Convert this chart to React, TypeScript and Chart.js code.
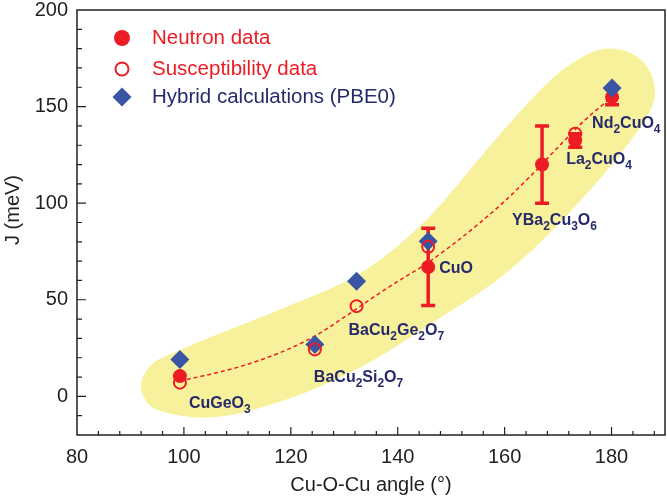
import React, { useEffect, useRef } from 'react';
import { Chart, registerables } from 'chart.js';
Chart.register(...registerables);

const FONT = "'Liberation Sans', Arial, Helvetica, sans-serif";
const RED = '#ec1c24';
const BLUE = '#3a55a4';
const NAVY = '#252a6b';
const AXIS = '#231f20';
const BAND = '#f8f19c';

// Neutron data (filled circles) with error bars
const neutronAngle = [99.25, 145.7, 167.0, 173.2, 180.1];
const neutronJ = [10.5, 67, 120, 132.5, 155];
const neutronErr = [0, 20, 20, 3.5, 4];

// Susceptibility data (open circles)
const suscAngle = [99.25, 124.5, 132.3, 145.7, 173.2];
const suscJ = [7.1, 24.3, 46.7, 77.4, 136];

// Hybrid calculations (PBE0) (diamonds)
const hybridAngle = [99.25, 124.5, 132.3, 145.7, 180.1];
const hybridJ = [19.1, 26.9, 59.6, 80.3, 159.6];

// Dashed guide line
const fitAngle = [99.25, 105, 110, 115, 120, 125, 130, 135, 140, 145, 150, 155, 160, 165, 170, 175, 180.1];
const fitJ = [8, 11.5, 15, 19.5, 25, 32, 41, 50.5, 59.5, 68, 78, 89, 101, 114.5, 129, 143, 155];

// Yellow band outline (closed)
const bandAngle = [91.8, 92.7, 94.6, 97.4, 102.4, 108.6, 114.8, 121.1, 127.3, 133.5, 139.8, 146.0, 151.6, 156.6, 162.8, 169.0, 174.0, 178.3, 182.8, 186.5, 188.4, 187.7,
  182.8, 177.8, 172.2, 166.0, 159.6, 153.5, 147.9, 139.8, 133.5, 127.3, 121.1, 114.8, 108.6, 102.4, 96.1, 93.6, 92.3];
const bandJ = [6.2, 12.9, 18.6, 21.7, 27.9, 34.6, 41.4, 48.6, 55.3, 64.1, 77.0, 92.6, 110.7, 127.7, 147.4, 165.5, 175.3, 180.5, 179.4, 172.7, 160.3, 148.4,
  129.3, 112.2, 95.2, 77.6, 62.0, 50.2, 40.8, 25.8, 15.5, 7.2, 0, -5.7, -10.3, -11.4, -8.3, -5.2, 0];

// Compound labels
const compoundNames = ['CuGeO3', 'BaCu2Si2O7', 'BaCu2Ge2O7', 'CuO', 'YBa2Cu3O6', 'La2CuO4', 'Nd2CuO4'];
const compoundAngle = [99.25, 124.5, 132.3, 145.7, 167.0, 173.2, 180.1];
const compoundJ = [10.5, 24.3, 46.7, 67, 120, 132.5, 155];
const labelOffsets = [[9, 32], [-1, 33], [-8, 29], [11, 6], [-30, 60], [-9, 24], [-20, 31]];

const legendLabels = ['Neutron data', 'Susceptibility data', 'Hybrid calculations (PBE0)'];
const xTitle = 'Cu-O-Cu angle (°)';
const yTitle = 'J (meV)';

function drawChem(ctx: CanvasRenderingContext2D, text: string, x: number, y: number) {
  let cx = x;
  for (const ch of text) {
    const sub = /[0-9]/.test(ch);
    ctx.font = sub ? `bold 12px ${FONT}` : `bold 16px ${FONT}`;
    ctx.fillText(ch, cx, sub ? y + 5 : y);
    cx += ctx.measureText(ch).width;
  }
}

const decor = {
  id: 'decor',
  beforeDatasetsDraw(chart: any) {
    const { ctx, chartArea: a, scales } = chart;
    const x = scales.x, y = scales.y;
    ctx.save();
    ctx.beginPath();
    ctx.rect(a.left, a.top, a.right - a.left, a.bottom - a.top);
    ctx.clip();
    const pts = bandAngle.map((v, i) => [x.getPixelForValue(v), y.getPixelForValue(bandJ[i])]);
    const n = pts.length;
    const mid = (p: number[], q: number[]) => [(p[0] + q[0]) / 2, (p[1] + q[1]) / 2];
    const m0 = mid(pts[n - 1], pts[0]);
    ctx.beginPath();
    ctx.moveTo(m0[0], m0[1]);
    for (let i = 0; i < n; i++) {
      const p = pts[i], q = pts[(i + 1) % n];
      const m = mid(p, q);
      ctx.quadraticCurveTo(p[0], p[1], m[0], m[1]);
    }
    ctx.closePath();
    ctx.fillStyle = BAND;
    ctx.fill();
    // error bars
    ctx.strokeStyle = RED;
    ctx.lineWidth = 3.5;
    ctx.lineCap = 'butt';
    neutronAngle.forEach((v, i) => {
      const e = neutronErr[i];
      if (!e) return;
      const px = x.getPixelForValue(v);
      const top = y.getPixelForValue(neutronJ[i] + e);
      const bot = y.getPixelForValue(neutronJ[i] - e);
      ctx.beginPath();
      ctx.moveTo(px, top); ctx.lineTo(px, bot);
      ctx.moveTo(px - 7, top); ctx.lineTo(px + 7, top);
      ctx.moveTo(px - 7, bot); ctx.lineTo(px + 7, bot);
      ctx.stroke();
    });
    ctx.restore();
  },
  afterDraw(chart: any) {
    const { ctx, chartArea: a, scales } = chart;
    const x = scales.x, y = scales.y;
    ctx.save();
    // frame
    ctx.strokeStyle = AXIS;
    ctx.lineWidth = 1.5;
    ctx.strokeRect(a.left, a.top, a.right - a.left, a.bottom - a.top);
    // ticks
    ctx.lineWidth = 1.2;
    ctx.beginPath();
    for (let v = 84; v < 190; v += 4) {
      const px = x.getPixelForValue(v);
      const len = v % 20 === 0 ? 8 : 4;
      ctx.moveTo(px, a.bottom); ctx.lineTo(px, a.bottom - len);
    }
    for (let v = -10; v < 200; v += 10) {
      const py = y.getPixelForValue(v);
      const len = v % 50 === 0 ? 9 : 5;
      ctx.moveTo(a.left, py); ctx.lineTo(a.left + len, py);
    }
    ctx.stroke();
    // axis titles
    ctx.fillStyle = AXIS;
    ctx.font = `20px ${FONT}`;
    ctx.textAlign = 'center';
    ctx.textBaseline = 'middle';
    ctx.fillText(xTitle, (a.left + a.right) / 2, 485);
    ctx.save();
    ctx.translate(13, 210);
    ctx.rotate(-Math.PI / 2);
    ctx.fillText(yTitle, 0, 0);
    ctx.restore();
    // legend
    const lx = 122, rows = [38, 69, 97];
    ctx.fillStyle = RED;
    ctx.beginPath(); ctx.arc(lx, rows[0], 8, 0, Math.PI * 2); ctx.fill();
    ctx.strokeStyle = RED; ctx.lineWidth = 2;
    ctx.beginPath(); ctx.arc(lx, rows[1], 6.5, 0, Math.PI * 2); ctx.stroke();
    ctx.fillStyle = BLUE;
    ctx.beginPath();
    ctx.moveTo(lx - 9.5, rows[2]); ctx.lineTo(lx, rows[2] - 9.5); ctx.lineTo(lx + 9.5, rows[2]); ctx.lineTo(lx, rows[2] + 9.5);
    ctx.closePath(); ctx.fill();
    ctx.font = `20.5px ${FONT}`;
    ctx.textAlign = 'left';
    ctx.textBaseline = 'middle';
    ctx.fillStyle = RED;
    ctx.fillText(legendLabels[0], 152, rows[0]);
    ctx.fillText(legendLabels[1], 152, rows[1]);
    ctx.fillStyle = NAVY;
    ctx.fillText(legendLabels[2], 152, rows[2]);
    // compound labels
    ctx.textBaseline = 'alphabetic';
    ctx.fillStyle = NAVY;
    compoundNames.forEach((name, i) => {
      const px = x.getPixelForValue(compoundAngle[i]) + labelOffsets[i][0];
      const py = y.getPixelForValue(compoundJ[i]) + labelOffsets[i][1];
      drawChem(ctx, name, px, py);
    });
    ctx.restore();
  },
};

export default function App() {
  const ref = useRef<HTMLCanvasElement>(null);
  useEffect(() => {
    document.body.style.margin = '0';
    const toXY = (xs: number[], ys: number[]) => xs.map((v, i) => ({ x: v, y: ys[i] }));
    const chart = new Chart(ref.current!, {
      type: 'scatter',
      data: {
        datasets: [
          {
            type: 'line',
            data: toXY(fitAngle, fitJ),
            borderColor: RED,
            borderWidth: 1.5,
            borderDash: [4, 3],
            pointRadius: 0,
            fill: false,
            cubicInterpolationMode: 'monotone',
            order: 5,
          } as any,
          {
            data: toXY(neutronAngle, neutronJ),
            pointStyle: 'circle',
            pointRadius: 7,
            backgroundColor: RED,
            borderColor: RED,
            borderWidth: 0,
            order: 3,
          },
          {
            data: toXY(hybridAngle, hybridJ),
            pointStyle: 'rectRot',
            pointRadius: 9.5,
            backgroundColor: BLUE,
            borderColor: BLUE,
            borderWidth: 0,
            order: 2,
          },
          {
            data: toXY(suscAngle, suscJ),
            pointStyle: 'circle',
            pointRadius: 6,
            backgroundColor: 'rgba(0,0,0,0)',
            borderColor: RED,
            borderWidth: 2,
            order: 1,
          },
        ],
      },
      options: {
        animation: false,
        responsive: true,
        maintainAspectRatio: false,
        devicePixelRatio: 1,
        layout: { autoPadding: false, padding: { top: 10, right: 2, left: 0, bottom: 0 } },
        plugins: { legend: { display: false }, tooltip: { enabled: false } },
        scales: {
          x: {
            type: 'linear',
            min: 80,
            max: 190,
            ticks: { stepSize: 20, includeBounds: false, color: AXIS, font: { family: FONT, size: 20 }, padding: 10 },
            grid: { display: false, drawTicks: false },
            border: { display: false },
            afterFit: (s: any) => { s.height = 62; s.paddingLeft = 0; s.paddingRight = 0; },
          },
          y: {
            type: 'linear',
            min: -20,
            max: 200,
            ticks: { stepSize: 50, includeBounds: false, color: AXIS, font: { family: FONT, size: 20, lineHeight: 1 }, padding: 9 },
            grid: { display: false, drawTicks: false },
            border: { display: false },
            afterFit: (s: any) => { s.width = 77; s.paddingTop = 0; s.paddingBottom = 0; },
          },
        },
      },
      plugins: [decor],
    } as any);
    return () => chart.destroy();
  }, []);
  return (
    <div style={{ width: 667, height: 497, position: 'relative' }}>
      <canvas ref={ref} />
    </div>
  );
}
